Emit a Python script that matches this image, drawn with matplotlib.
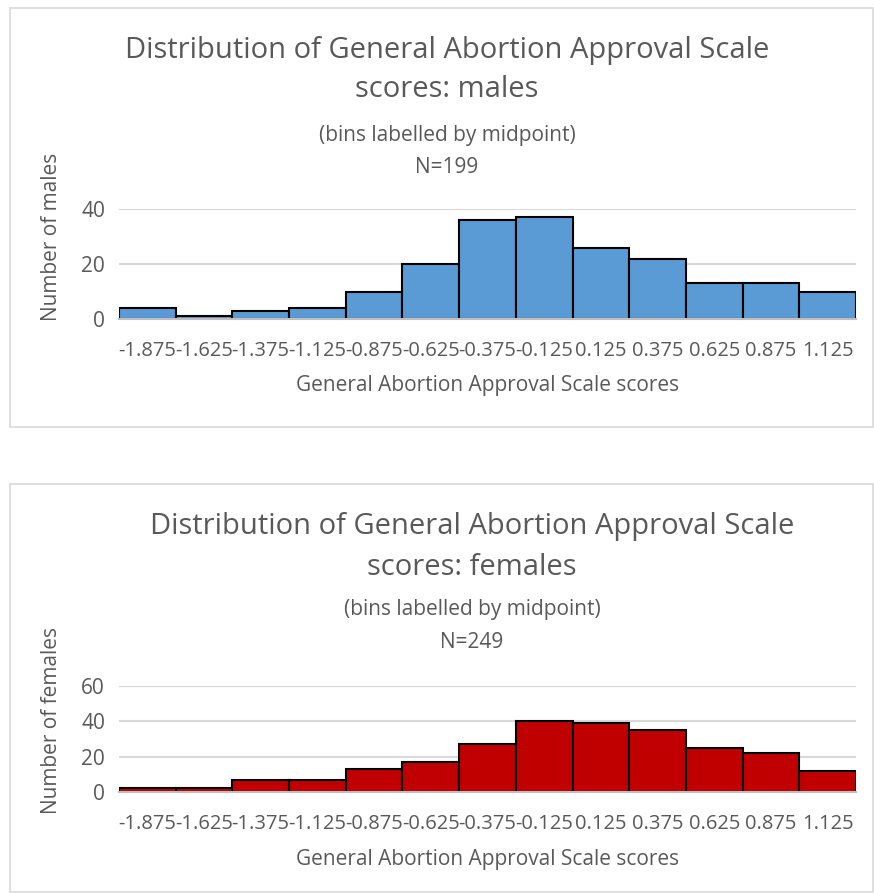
import matplotlib.pyplot as plt
from matplotlib.patches import Rectangle

# bin midpoints and counts
bins = ["-1.875", "-1.625", "-1.375", "-1.125", "-0.875", "-0.625", "-0.375",
        "-0.125", "0.125", "0.375", "0.625", "0.875", "1.125"]
males = [4, 1, 3, 4, 10, 20, 36, 37, 26, 22, 13, 13, 10]
females = [2, 2, 7, 7, 13, 17, 27, 40, 39, 35, 25, 22, 12]

W, H = 874, 893
TEXT = "#595959"
GRID = "#D9D9D9"

plt.rcParams["font.family"] = ["Open Sans", "DejaVu Sans"]

fig = plt.figure(figsize=(W / 100, H / 100), dpi=100)


def fx(x):
    return x / W


def fy(y):
    return 1 - y / H


def panel(top, bottom, ax_top, ax_bottom, counts, color, ymax, who, n, cx, base, ylab):
    # chart border
    fig.patches.append(Rectangle((fx(10), fy(bottom)), fx(863), fy(top) - fy(bottom),
                                 transform=fig.transFigure, fill=False,
                                 edgecolor=GRID, lw=1.2))
    ax = fig.add_axes([fx(119), fy(ax_bottom), fx(737), fy(ax_top) - fy(ax_bottom)])
    x = list(range(len(bins)))
    ax.bar(x, counts, width=1.0, color=color, edgecolor="black", lw=1.5, zorder=3)
    ax.set_xlim(-0.5, len(bins) - 0.5)
    ax.set_ylim(0, ymax)
    ax.set_yticks(range(0, ymax + 1, 20))
    ax.set_xticks(x)
    ax.set_xticklabels(bins)
    ax.grid(axis="y", color=GRID, lw=1.5, zorder=0)
    for s in ["top", "right", "left"]:
        ax.spines[s].set_visible(False)
    ax.spines["bottom"].set_color("#BFBFBF")
    ax.spines["bottom"].set_linewidth(1.5)
    ax.spines["bottom"].set_zorder(4)
    ax.tick_params(length=0, labelsize=14.5, labelcolor=TEXT)
    ax.tick_params(axis="x", pad=16)
    ax.tick_params(axis="y", pad=10)
    ax.tick_params(axis="y", labelsize=15)

    fig.text(fx(cx), fy(base[0]), "Distribution of General Abortion Approval Scale",
             ha="center", va="baseline", fontsize=21, color=TEXT)
    fig.text(fx(cx), fy(base[1]), "scores: " + who,
             ha="center", va="baseline", fontsize=21, color=TEXT)
    fig.text(fx(cx), fy(base[2]), "(bins labelled by midpoint)",
             ha="center", va="baseline", fontsize=15, color=TEXT)
    fig.text(fx(cx), fy(base[3]), "N=%d" % n,
             ha="center", va="baseline", fontsize=15, color=TEXT)
    fig.text(fx(488), fy(ax_bottom + 67), "General Abortion Approval Scale scores",
             ha="center", va="center", fontsize=15, color=TEXT)
    fig.text(fx(52), fy(ylab), "Number of " + who, rotation=90,
             ha="center", va="center", fontsize=15, color=TEXT)
    return ax


panel(8, 427, 209, 319, males, "#5B9BD5", 40, "males", 199, 447,
      (58, 97, 141, 173), 237)
panel(484, 892, 686, 792, females, "#C00000", 60, "females", 249, 472,
      (534, 575, 615, 648), 720)

fig.savefig("out.png", dpi=100)
